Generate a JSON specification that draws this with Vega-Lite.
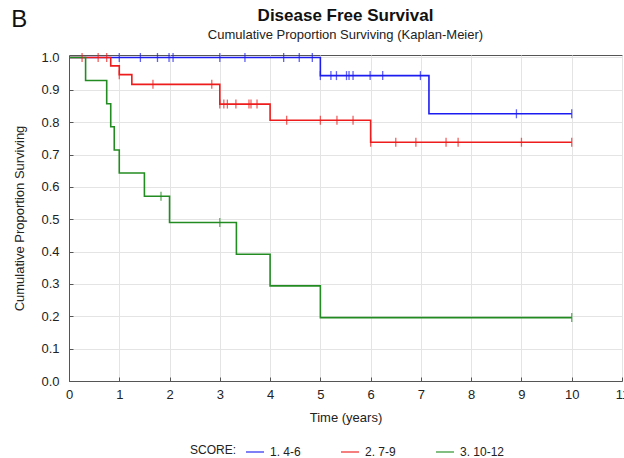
{
  "$schema": "https://vega.github.io/schema/vega-lite/v6.json",
  "autosize": {"type": "none"},
  "padding": {"left": 69, "top": 55, "right": 2, "bottom": 77},
  "width": 553,
  "height": 326,
  "background": "white",
  "config": {
    "font": "Liberation Sans",
    "view": {"stroke": "#555555", "strokeWidth": 1},
    "axis": {
      "labelFont": "Liberation Sans",
      "titleFont": "Liberation Sans",
      "labelFontSize": 13,
      "titleFontSize": 13,
      "labelColor": "#222222",
      "titleColor": "#222222",
      "titleFontWeight": "normal",
      "gridColor": "#e4e4e4",
      "gridWidth": 1,
      "domainColor": "#555555",
      "tickColor": "#555555"
    },
    "axisY": {"tickCount": 11}
  },
  "title": {
    "text": "Disease Free Survival",
    "subtitle": "Cumulative Proportion Surviving (Kaplan-Meier)",
    "font": "Liberation Sans",
    "fontSize": 17,
    "fontWeight": "bold",
    "color": "#111111",
    "subtitleFont": "Liberation Sans",
    "subtitleFontSize": 13,
    "subtitleColor": "#222222",
    "subtitlePadding": 4,
    "offset": 7,
    "dy": 42,
    "anchor": "middle"
  },
  "datasets": {
    "curves": [
      {"score": "1. 4-6", "time": 0, "surv": 1.0},
      {"score": "1. 4-6", "time": 5.0, "surv": 0.944},
      {"score": "1. 4-6", "time": 7.16, "surv": 0.826},
      {"score": "1. 4-6", "time": 10.0, "surv": 0.826},
      {"score": "2. 7-9", "time": 0, "surv": 1.0},
      {"score": "2. 7-9", "time": 0.83, "surv": 0.974},
      {"score": "2. 7-9", "time": 1.0, "surv": 0.947},
      {"score": "2. 7-9", "time": 1.25, "surv": 0.917},
      {"score": "2. 7-9", "time": 3.0, "surv": 0.856},
      {"score": "2. 7-9", "time": 4.0, "surv": 0.806},
      {"score": "2. 7-9", "time": 6.0, "surv": 0.738},
      {"score": "2. 7-9", "time": 10.0, "surv": 0.738},
      {"score": "3. 10-12", "time": 0, "surv": 1.0},
      {"score": "3. 10-12", "time": 0.33, "surv": 0.929},
      {"score": "3. 10-12", "time": 0.75, "surv": 0.857},
      {"score": "3. 10-12", "time": 0.83, "surv": 0.786},
      {"score": "3. 10-12", "time": 0.9, "surv": 0.714},
      {"score": "3. 10-12", "time": 1.0, "surv": 0.643},
      {"score": "3. 10-12", "time": 1.5, "surv": 0.571},
      {"score": "3. 10-12", "time": 2.0, "surv": 0.49},
      {"score": "3. 10-12", "time": 3.33, "surv": 0.392},
      {"score": "3. 10-12", "time": 4.0, "surv": 0.294},
      {"score": "3. 10-12", "time": 5.0, "surv": 0.196},
      {"score": "3. 10-12", "time": 10.0, "surv": 0.196}
    ],
    "censored": [
      {"score": "1. 4-6", "time": 1.0, "surv": 1.0},
      {"score": "1. 4-6", "time": 1.42, "surv": 1.0},
      {"score": "1. 4-6", "time": 1.76, "surv": 1.0},
      {"score": "1. 4-6", "time": 1.99, "surv": 1.0},
      {"score": "1. 4-6", "time": 2.07, "surv": 1.0},
      {"score": "1. 4-6", "time": 3.0, "surv": 1.0},
      {"score": "1. 4-6", "time": 3.5, "surv": 1.0},
      {"score": "1. 4-6", "time": 4.27, "surv": 1.0},
      {"score": "1. 4-6", "time": 4.58, "surv": 1.0},
      {"score": "1. 4-6", "time": 4.84, "surv": 1.0},
      {"score": "1. 4-6", "time": 5.0, "surv": 0.944},
      {"score": "1. 4-6", "time": 5.21, "surv": 0.944},
      {"score": "1. 4-6", "time": 5.32, "surv": 0.944},
      {"score": "1. 4-6", "time": 5.52, "surv": 0.944},
      {"score": "1. 4-6", "time": 5.57, "surv": 0.944},
      {"score": "1. 4-6", "time": 5.65, "surv": 0.944},
      {"score": "1. 4-6", "time": 5.99, "surv": 0.944},
      {"score": "1. 4-6", "time": 6.24, "surv": 0.944},
      {"score": "1. 4-6", "time": 6.99, "surv": 0.944},
      {"score": "1. 4-6", "time": 8.9, "surv": 0.826},
      {"score": "1. 4-6", "time": 10.0, "surv": 0.826},
      {"score": "2. 7-9", "time": 0.26, "surv": 1.0},
      {"score": "2. 7-9", "time": 0.58, "surv": 1.0},
      {"score": "2. 7-9", "time": 0.75, "surv": 1.0},
      {"score": "2. 7-9", "time": 1.0, "surv": 0.947},
      {"score": "2. 7-9", "time": 1.67, "surv": 0.917},
      {"score": "2. 7-9", "time": 2.84, "surv": 0.917},
      {"score": "2. 7-9", "time": 3.0, "surv": 0.856},
      {"score": "2. 7-9", "time": 3.08, "surv": 0.856},
      {"score": "2. 7-9", "time": 3.15, "surv": 0.856},
      {"score": "2. 7-9", "time": 3.32, "surv": 0.856},
      {"score": "2. 7-9", "time": 3.58, "surv": 0.856},
      {"score": "2. 7-9", "time": 3.62, "surv": 0.856},
      {"score": "2. 7-9", "time": 3.74, "surv": 0.856},
      {"score": "2. 7-9", "time": 4.33, "surv": 0.806},
      {"score": "2. 7-9", "time": 5.0, "surv": 0.806},
      {"score": "2. 7-9", "time": 5.33, "surv": 0.806},
      {"score": "2. 7-9", "time": 5.65, "surv": 0.806},
      {"score": "2. 7-9", "time": 6.0, "surv": 0.738},
      {"score": "2. 7-9", "time": 6.5, "surv": 0.738},
      {"score": "2. 7-9", "time": 6.9, "surv": 0.738},
      {"score": "2. 7-9", "time": 7.5, "surv": 0.738},
      {"score": "2. 7-9", "time": 7.74, "surv": 0.738},
      {"score": "2. 7-9", "time": 9.0, "surv": 0.738},
      {"score": "2. 7-9", "time": 10.0, "surv": 0.738},
      {"score": "3. 10-12", "time": 1.83, "surv": 0.571},
      {"score": "3. 10-12", "time": 3.0, "surv": 0.49},
      {"score": "3. 10-12", "time": 10.0, "surv": 0.196}
    ]
  },
  "layer": [
    {
      "data": {"name": "curves"},
      "mark": {"type": "line", "interpolate": "step-after", "strokeWidth": 1.6},
      "encoding": {
        "x": {
          "field": "time",
          "type": "quantitative",
          "scale": {"domain": [0, 11], "nice": false},
          "axis": {
            "title": "Time (years)",
            "values": [0, 1, 2, 3, 4, 5, 6, 7, 8, 9, 10, 11],
            "format": "d",
            "labelPadding": 11,
            "tickSize": -4,
            "titlePadding": 10,
            "labelFlush": false,
            "labelOverlap": false
          }
        },
        "y": {
          "field": "surv",
          "type": "quantitative",
          "scale": {"domain": [0, 1.0077], "nice": false, "zero": true},
          "axis": {
            "title": "Cumulative Proportion Surviving",
            "values": [0, 0.1, 0.2, 0.3, 0.4, 0.5, 0.6, 0.7, 0.8, 0.9, 1.0],
            "tickCount": 11,
            "format": ".1f",
            "labelPadding": 14,
            "tickSize": -4,
            "titlePadding": 14,
            "labelFlush": false,
            "labelOverlap": false
          }
        },
        "color": {
          "field": "score",
          "type": "nominal",
          "scale": {
            "domain": ["1. 4-6", "2. 7-9", "3. 10-12"],
            "range": ["#1c1cf0", "#ee1c1c", "#228c22"]
          },
          "legend": {
            "title": "SCORE:",
            "orient": "none",
            "direction": "horizontal",
            "legendX": 121,
            "legendY": 387,
            "titleOrient": "left",
            "titleFontWeight": "normal",
            "titleFontSize": 12,
            "titleFont": "Liberation Sans",
            "titleColor": "#222222",
            "titlePadding": 8,
            "labelFontSize": 12,
            "labelFont": "Liberation Sans",
            "labelColor": "#222222",
            "labelOffset": 5,
            "symbolType": "stroke",
            "symbolSize": 324,
            "symbolStrokeWidth": 1.6,
            "columnPadding": 36
          }
        }
      }
    },
    {
      "data": {"name": "censored"},
      "mark": {"type": "tick", "orient": "vertical", "size": 9, "thickness": 1.3},
      "encoding": {
        "x": {"field": "time", "type": "quantitative"},
        "y": {"field": "surv", "type": "quantitative"},
        "color": {"field": "score", "type": "nominal"}
      }
    },
    {
      "data": {"values": [{"label": "B"}]},
      "mark": {"type": "text", "fontSize": 24, "font": "Liberation Sans", "align": "center", "baseline": "middle", "color": "#111111"},
      "encoding": {
        "x": {"datum": -0.99, "type": "quantitative"},
        "y": {"datum": 1.116, "type": "quantitative"},
        "text": {"field": "label"}
      }
    }
  ]
}
